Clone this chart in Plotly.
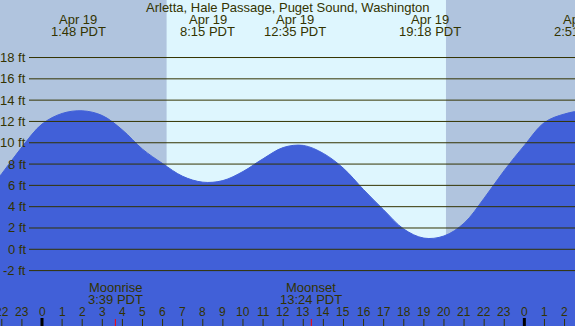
import plotly.graph_objects as go

# ---- data ----
hours = list(range(-3, 29))
heights = [4.8, 7.1, 9.6, 11.75, 12.75, 13.0, 12.55, 11.2, 9.4, 8.05, 6.85, 6.3,
           6.45, 7.3, 8.5, 9.55, 9.75, 9.0, 7.6, 5.6, 3.7, 1.9, 1.05, 1.25, 2.45,
           4.8, 7.4, 9.75, 11.9, 12.7, 13.0, 12.6]

tide_times = [1.8, 8.25, 12.583, 19.3, 26.85]
tide_dates = ["Apr 19", "Apr 19", "Apr 19", "Apr 19", "Apr 20"]
tide_labels = ["1:48 PDT", "8:15 PDT", "12:35 PDT", "19:18 PDT", "2:51 PDT"]

moon_times = [3.65, 13.4]
moon_names = ["Moonrise", "Moonset"]
moon_labels = ["3:39 PDT", "13:24 PDT"]

sun_times = [6.2, 20.1]   # sunrise, sunset

y_ticks = [-2, 0, 2, 4, 6, 8, 10, 12, 14, 16, 18]
hour_ticks = list(range(-2, 27))

title = "Arletta, Hale Passage, Puget Sound, Washington"

# ---- styling ----
W, H = 575, 326
NIGHT = "#B0C4DE"
DAY = "#DEF6FE"
WATER = "#4160D8"
INK = "#333300"
FONT = "Liberation Sans"
X_RANGE = [-2.09, 26.52]
Y_RANGE = [-7.2, 23.4]


def xp(t):
    """data hour -> paper fraction along the x axis"""
    return (t - X_RANGE[0]) / (X_RANGE[1] - X_RANGE[0])


def py(pix):
    return 1 - pix / H


fig = go.Figure()
base = [Y_RANGE[0] - 5] * len(hours)
fig.add_trace(go.Scatter(x=hours, y=base, mode="lines", line=dict(width=0),
                         hoverinfo="skip", showlegend=False))
fig.add_trace(go.Scatter(x=hours, y=heights, mode="lines", fill="tonexty",
                         fillcolor=WATER, line=dict(color=WATER, width=1, shape="spline"),
                         showlegend=False))

shapes = []
shapes.append(dict(type="rect", xref="x", yref="paper", x0=sun_times[0], x1=sun_times[1],
                   y0=0, y1=1, fillcolor=DAY, line=dict(width=0), layer="below"))
for v in y_ticks:
    shapes.append(dict(type="line", xref="paper", yref="y", x0=29 / W, x1=1, y0=v, y1=v,
                       line=dict(color=INK, width=1), layer="above"))
tick_len = 7 / H
for h in hour_ticks:
    if h % 24 == 0:
        shapes.append(dict(type="line", xref="x", yref="paper", x0=h, x1=h, y0=0,
                           y1=8 / H, line=dict(color="black", width=3), layer="above"))
    else:
        shapes.append(dict(type="line", xref="x", yref="paper", x0=h, x1=h, y0=0,
                           y1=tick_len, line=dict(color=INK, width=1), layer="above"))
for t in moon_times:
    shapes.append(dict(type="line", xref="x", yref="paper", x0=t, x1=t, y0=0,
                       y1=tick_len, line=dict(color="red", width=1), layer="above"))

ann = []
def txt(text, x, y, size=13, xanchor="center", yref="paper"):
    ann.append(dict(text=text, x=x, xref="paper", y=y, yref=yref, showarrow=False,
                    xanchor=xanchor, yanchor="middle",
                    font=dict(size=size, color=INK, family=FONT)))

txt(title, 0.5, py(7.5))
for t, d, l in zip(tide_times, tide_dates, tide_labels):
    txt(d, xp(t), py(20))
    txt(l, xp(t), py(31.5))
for t, n, l in zip(moon_times, moon_names, moon_labels):
    txt(n, xp(t), py(287.5))
    txt(l, xp(t), py(299.5))
for v in y_ticks:
    txt(f"{v} ft", 27.5 / W, v, xanchor="right", yref="y")
for h in hour_ticks:
    txt(str(h % 24), xp(h), py(311.5), size=12)

fig.update_layout(
    width=W, height=H, margin=dict(l=0, r=0, t=0, b=0),
    paper_bgcolor=NIGHT, plot_bgcolor=NIGHT,
    xaxis=dict(range=X_RANGE, visible=False, fixedrange=True),
    yaxis=dict(range=Y_RANGE, visible=False, fixedrange=True),
    shapes=shapes, annotations=ann, showlegend=False,
)
fig.write_html(
    "out.html",
    config={"displayModeBar": False},
    post_script="document.body.style.margin='0';document.body.style.overflow='hidden';",
)
